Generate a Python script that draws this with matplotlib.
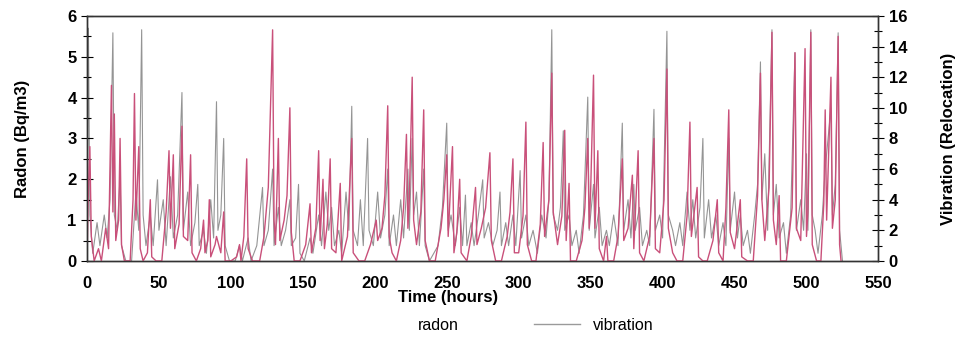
# Radon concentration and vibration over time, twin y axes

import matplotlib
matplotlib.use('Agg')
import matplotlib.pyplot as plt
from matplotlib.lines import Line2D
from matplotlib.ticker import MultipleLocator

plt.rcParams['font.family'] = ['Liberation Sans', 'DejaVu Sans']

# Radon (Bq/m3) readings: hour and value
radon_t = [0, 1, 2, 3, 5, 8, 10, 13, 15, 17, 18, 19, 20, 22, 23, 24, 26, 30, 32, 33,
           34, 36, 37, 39, 42, 44, 45, 48, 52, 55, 57, 58, 60, 61, 64, 66, 67, 70, 72, 73,
           76, 79, 81, 82, 84, 85, 86, 89, 90, 93, 95, 96, 100, 104, 106, 107, 109, 111, 112, 115,
           120, 123, 126, 129, 130, 131, 133, 134, 137, 139, 141, 142, 144, 148, 152, 155, 156, 159, 161, 162,
           164, 165, 167, 169, 170, 173, 176, 177, 181, 184, 185, 189, 193, 197, 201, 202, 205, 207, 209, 210,
           212, 215, 218, 220, 222, 223, 224, 226, 227, 229, 232, 234, 235, 238, 242, 246, 248, 250, 251, 254,
           255, 257, 259, 260, 264, 267, 270, 271, 274, 277, 280, 281, 284, 288, 292, 294, 296, 297, 300, 303,
           305, 306, 309, 312, 315, 317, 318, 321, 323, 324, 327, 330, 332, 333, 335, 336, 340, 344, 346, 348,
           349, 350, 352, 353, 355, 356, 359, 361, 362, 366, 369, 372, 373, 376, 379, 380, 383, 384, 387, 391,
           394, 395, 398, 401, 403, 404, 407, 410, 414, 417, 419, 420, 424, 425, 428, 431, 435, 438, 439, 442,
           444, 446, 447, 450, 454, 455, 459, 463, 466, 468, 469, 471, 474, 476, 477, 479, 481, 482, 486, 490,
           492, 493, 496, 499, 500, 501, 503, 504, 507, 510, 512, 513, 514, 517, 518, 520, 522, 523, 524]
radon_v = [0, 1.8, 2.8, 0.6, 0, 0.3, 0, 0.8, 0.3, 4.3, 1.2, 3.6, 0.5, 1.0, 3.0, 0.4, 0, 0, 1.5, 4.1,
           1.0, 2.8, 0.3, 0, 0.2, 1.5, 0.1, 0, 0, 1.2, 2.7, 0.8, 2.6, 0.3, 0.9, 3.3, 0.6, 0.5, 2.6, 0.2,
           0, 0.3, 1.0, 0.2, 0.5, 1.5, 0.1, 0.4, 0.6, 0.2, 1.2, 0, 0, 0.1, 0.4, 0, 0.6, 2.5, 0.3, 0,
           0, 0.6, 1.8, 5.66, 1.0, 0.4, 3.0, 0.5, 1.0, 1.6, 3.75, 0.7, 0, 0, 0.4, 1.4, 0.2, 0.8, 2.7, 0.5,
           2.0, 0.3, 0.9, 2.5, 0.3, 0.2, 1.9, 0, 0.6, 3.0, 0.2, 0, 0, 0.4, 1.0, 0.5, 0.8, 1.6, 3.8, 0.6,
           0.2, 0, 0.5, 1.3, 3.1, 0.8, 1.5, 4.5, 1.0, 0.4, 1.2, 3.7, 0.5, 0, 0, 0.8, 1.5, 2.6, 0.6, 2.8,
           0.2, 0.7, 2.0, 0.2, 0, 0.6, 1.8, 0.4, 0.8, 1.3, 2.65, 0.5, 0, 0, 0.6, 1.2, 2.5, 0.2, 0.2, 1.1,
           3.4, 0.4, 0, 0, 0.9, 2.9, 0.6, 1.5, 4.6, 1.2, 0.4, 1.1, 3.2, 0.5, 1.9, 0, 0, 0.5, 1.3, 3.0,
           0.8, 1.7, 4.55, 0.8, 2.7, 0.3, 0, 0.6, 0, 0, 0.6, 2.5, 0.5, 0.8, 2.1, 0.3, 2.7, 0.2, 0, 0.6,
           3.0, 0.3, 0.2, 1.5, 4.7, 0.8, 0.2, 0, 0, 1.1, 3.4, 0.6, 1.8, 0.1, 0, 0, 0.5, 1.5, 0.2, 0,
           1.3, 3.7, 0.7, 0.3, 1.5, 0.1, 0, 0, 1.6, 4.6, 1.5, 0.5, 1.8, 5.6, 1.0, 0.4, 1.6, 0, 0, 1.3,
           5.1, 0.8, 0.5, 5.2, 0.6, 1.2, 5.6, 0.4, 0, 0, 1.4, 3.7, 1.0, 4.5, 0.8, 1.5, 5.5, 0.4, 0]

# Vibration (relocation) readings: hour and value
vib_t = [0, 1, 2, 4, 7, 9, 12, 14, 16, 18, 19, 21, 23, 24, 27, 31, 34, 36, 38, 39,
         41, 44, 46, 49, 50, 53, 55, 58, 60, 63, 66, 67, 70, 72, 75, 77, 78, 81, 83, 86,
         88, 90, 91, 93, 95, 96, 99, 103, 106, 108, 112, 114, 118, 122, 123, 126, 129, 130, 133, 135,
         138, 141, 142, 145, 147, 148, 151, 155, 157, 161, 163, 166, 168, 170, 172, 175, 177, 180, 182, 184,
         185, 188, 190, 192, 195, 196, 199, 202, 204, 207, 209, 210, 213, 215, 218, 220, 223, 224, 226, 227,
         229, 231, 234, 235, 238, 241, 244, 247, 250, 251, 253, 256, 259, 261, 263, 264, 267, 269, 272, 275,
         276, 279, 282, 285, 287, 288, 291, 293, 296, 298, 301, 302, 305, 307, 310, 313, 316, 319, 321, 323,
         324, 327, 329, 331, 332, 335, 337, 340, 342, 345, 348, 349, 352, 353, 356, 358, 361, 363, 366, 369,
         372, 373, 376, 378, 380, 381, 384, 386, 389, 391, 394, 395, 398, 400, 403, 404, 407, 409, 412, 414,
         417, 419, 421, 423, 426, 428, 429, 432, 434, 437, 439, 442, 444, 446, 447, 450, 452, 454, 456, 459,
         461, 464, 466, 468, 469, 471, 473, 476, 477, 479, 481, 484, 486, 489, 492, 493, 496, 498, 500, 501,
         503, 504, 506, 508, 511, 513, 515, 517, 518, 520, 522, 523, 525]
vib_v = [0, 15.2, 3, 0.5, 2.5, 1, 3, 1.5, 4, 14.9, 3, 2, 5.5, 1, 0, 0, 4.5, 2, 15.1, 3,
         1, 3, 1, 5.3, 2, 4, 1, 5.5, 1.5, 3, 11, 2, 4.5, 1, 2.5, 5, 1, 2, 0.5, 4,
         1.5, 10.4, 2, 3, 8, 1, 0, 0, 1, 0, 1.5, 0, 1, 4.8, 1, 2, 6, 1, 3.5, 1,
         2, 4, 1, 1.5, 5, 0.5, 0, 1.5, 0.5, 3, 1, 4.5, 2, 3.5, 1, 2, 0.5, 4.5, 2, 10.1,
         2, 1, 4, 1, 8, 2, 1, 4.5, 1.5, 3, 6, 1, 3, 1, 4, 1.5, 6, 2, 8, 3,
         4.5, 1, 6, 1, 0, 0.5, 1, 3.5, 9, 2, 3, 1, 3.5, 1, 4.3, 1, 2.5, 1, 3, 5.3,
         1.5, 2.5, 1, 2, 4.5, 1, 2.5, 1, 3, 1, 5.9, 1.5, 3, 1, 2, 0.5, 3, 1.5, 4, 15.1,
         3, 2, 3.5, 8.5, 2, 3, 1, 2, 0.5, 3, 10.7, 2, 5, 1.5, 3.5, 1, 2, 1, 3, 1,
         9, 2, 4, 1.5, 5, 2, 3.5, 1, 2, 1, 9.9, 2, 3, 1.5, 15, 3, 2, 1, 2.5, 1,
         4.5, 2, 4, 1.5, 3.5, 8, 1.5, 4, 1.5, 3, 1, 2.5, 1, 8, 2, 4.5, 1.5, 3, 1, 2,
         0.5, 3, 5, 13, 4, 7, 2, 15.1, 3, 5, 1.5, 2.5, 0.5, 3, 13.6, 2, 4, 2, 7, 2,
         15.1, 3, 2, 0.5, 3, 6, 8, 10, 3, 5, 14.9, 2, 0]

fig = plt.figure(figsize=(9.59, 3.47), dpi=100)
ax = fig.add_axes([0.0907, 0.248, 0.8253, 0.706])
ax2 = ax.twinx()

# vibration drawn underneath in grey, radon on top in crimson
ax2.plot(vib_t, vib_v, color='#7a7a7a', linewidth=0.8, alpha=0.8)
ax.set_zorder(ax2.get_zorder() + 1)
ax.patch.set_visible(False)
ax.plot(radon_t, radon_v, color='#c9507a', linewidth=1.0)

ax.set_xlim(0, 550)
ax.set_ylim(0, 6)
ax2.set_ylim(0, 16)
ax.xaxis.set_major_locator(MultipleLocator(50))
ax.yaxis.set_major_locator(MultipleLocator(1))
ax.yaxis.set_minor_locator(MultipleLocator(0.5))
ax2.yaxis.set_major_locator(MultipleLocator(2))
ax2.yaxis.set_minor_locator(MultipleLocator(1))

for a in (ax, ax2):
    for side in a.spines:
        a.spines[side].set_linewidth(1.0)
        a.spines[side].set_color('#333333')
ax.tick_params(axis='y', direction='inout', length=8, width=0.8, labelsize=12)
ax.tick_params(axis='y', which='minor', direction='inout', length=6, width=0.8)
ax.tick_params(axis='x', length=0, labelsize=12, pad=11)
ax2.tick_params(axis='y', direction='inout', length=8, width=0.8, labelsize=12)
ax2.tick_params(axis='y', which='minor', direction='inout', length=6, width=0.8)
for lab in ax.get_xticklabels() + ax.get_yticklabels() + ax2.get_yticklabels():
    lab.set_fontweight('bold')

ax.set_xlabel('Time (hours)', fontsize=12, fontweight='bold')
ax.xaxis.set_label_coords(0.456, -0.118)
ax.set_ylabel('Radon (Bq/m3)', fontsize=12, fontweight='bold', labelpad=27)
ax2.set_ylabel('Vibration (Relocation)', fontsize=12, fontweight='bold', labelpad=24)

handles = [Line2D([], [], color='white', linewidth=1),
           Line2D([], [], color='#9a9a9a', linewidth=1)]
fig.legend(handles, ['radon', 'vibration'], loc='center', bbox_to_anchor=(0.528, 0.063),
           ncol=2, frameon=False, fontsize=11.5, handlelength=2.9, handletextpad=0.8,
           columnspacing=4.7)

plt.savefig('out.png', dpi=100)
